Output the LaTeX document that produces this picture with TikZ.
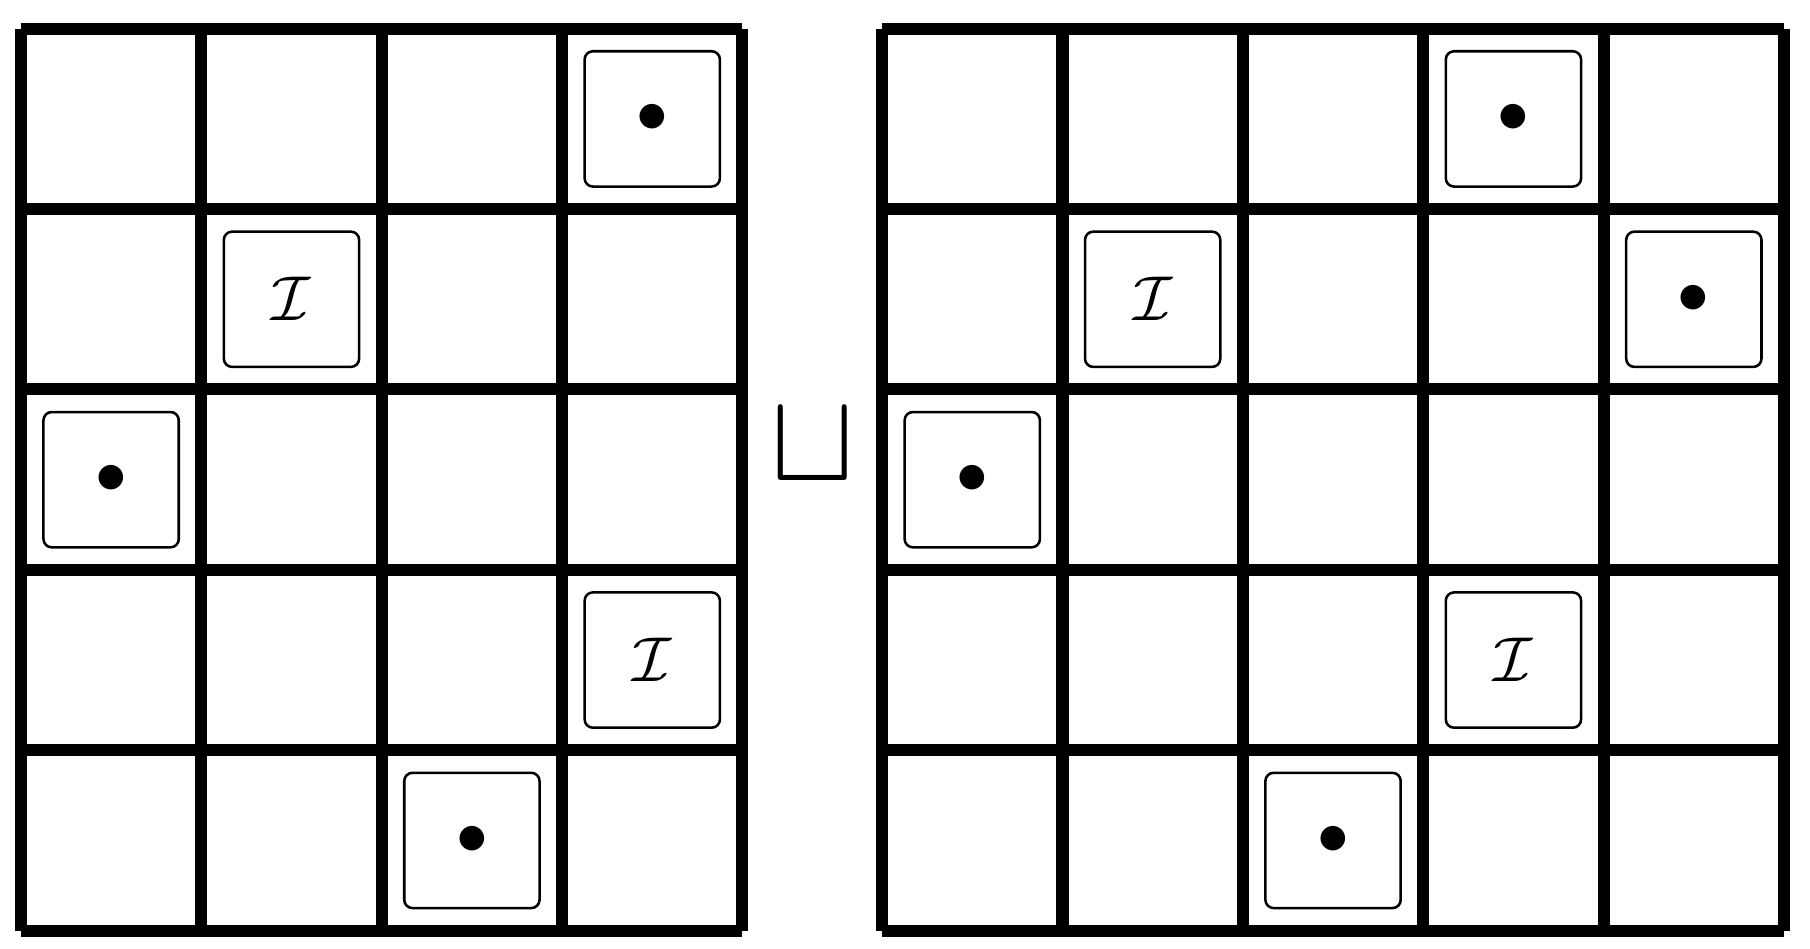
\documentclass[tikz,border=0pt]{standalone}
\begin{document}
\begin{tikzpicture}[x=1cm,y=-1cm,
  gridline/.style={line width=1.9pt, line cap=butt},
  cellbox/.style={draw, line width=0.4pt, rounded corners=1.3pt, minimum size=0.75cm, inner sep=0pt},
]
\useasboundingbox (-0.116,-0.159) rectangle (9.918,5.098);
% left grid (4 x 5)
\foreach \i in {0,...,4} \draw[gridline] (\i,0) -- (\i,5);
\foreach \j in {0,...,5} \draw[gridline] (0,\j) -- (4,\j);
% right grid (5 x 5)
\foreach \i in {0,...,5} \draw[gridline] (4.774+\i,0) -- (4.774+\i,5);
\foreach \j in {0,...,5} \draw[gridline] (4.774,\j) -- (9.774,\j);
% left grid boxes
\node[cellbox] (la) at (3.5,0.5) {$\bullet$};
\node[cellbox] (lb) at (1.5,1.5) {$\mathcal{I}$};
\node[cellbox] (lc) at (0.5,2.5) {$\bullet$};
\node[cellbox] (ld) at (3.5,3.5) {$\mathcal{I}$};
\node[cellbox] (le) at (2.5,4.5) {$\bullet$};
% disjoint union symbol
\node[scale=2.0, inner sep=0pt] (cup) at (4.387,2.31) {$\sqcup$};
% right grid boxes
\node[cellbox] (ra) at (4.774+3.5,0.5) {$\bullet$};
\node[cellbox] (rb) at (4.774+1.5,1.5) {$\mathcal{I}$};
\node[cellbox] (rc) at (4.774+4.5,1.5) {$\bullet$};
\node[cellbox] (rd) at (4.774+0.5,2.5) {$\bullet$};
\node[cellbox] (re) at (4.774+3.5,3.5) {$\mathcal{I}$};
\node[cellbox] (rf) at (4.774+2.5,4.5) {$\bullet$};
\end{tikzpicture}
\end{document}
